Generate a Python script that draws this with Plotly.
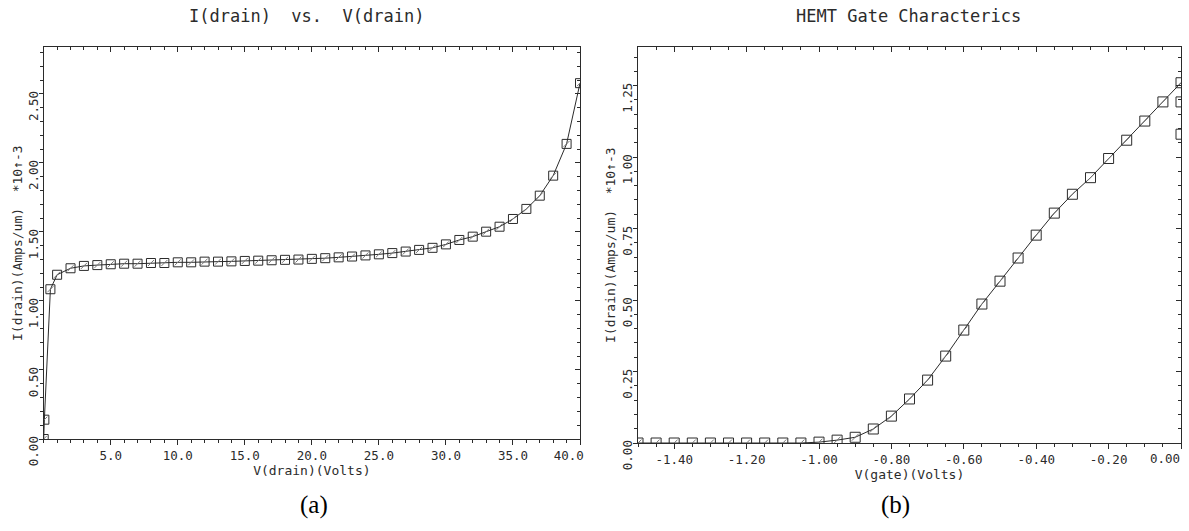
import plotly.graph_objects as go

# ---- I(drain) vs V(drain) ----
v_drain = [0.0, 0.05, 0.5, 1, 2, 3, 4, 5, 6, 7, 8, 9, 10, 11, 12, 13, 14, 15, 16, 17,
           18, 19, 20, 21, 22, 23, 24, 25, 26, 27, 28, 29, 30, 31, 32, 33, 34, 35,
           36, 37, 38, 39, 40]
i_drain = [0.0, 0.14, 1.085, 1.19, 1.237, 1.254, 1.26, 1.266, 1.27, 1.27, 1.275, 1.275,
           1.28, 1.28, 1.285, 1.285, 1.287, 1.29, 1.292, 1.295, 1.298, 1.30, 1.305,
           1.31, 1.316, 1.322, 1.33, 1.338, 1.347, 1.358, 1.37, 1.385, 1.41, 1.442,
           1.466, 1.502, 1.538, 1.594, 1.667, 1.763, 1.908, 2.138, 2.578]

# ---- HEMT gate characteristic ----
v_gate = [-1.50, -1.45, -1.40, -1.35, -1.30, -1.25, -1.20, -1.15, -1.10, -1.05,
          -1.00, -0.95, -0.90, -0.85, -0.80, -0.75, -0.70, -0.65, -0.60, -0.55,
          -0.50, -0.45, -0.40, -0.35, -0.30, -0.25, -0.20, -0.15, -0.10, -0.05, 0.00]
i_gate = [0.0, 0.0, 0.0, 0.0, 0.0, 0.0, 0.0, 0.0, 0.0, 0.0,
          0.003, 0.01, 0.02, 0.049, 0.094, 0.154, 0.22, 0.304, 0.395, 0.486,
          0.566, 0.647, 0.727, 0.804, 0.87, 0.928, 0.995, 1.059, 1.126, 1.193, 1.26]
v_gate_extra = [0.0, 0.0]
i_gate_extra = [1.193, 1.08]

# ---- tick labels ----
PAD = "\u00a0"
drain_xticks = [5, 10, 15, 20, 25, 30, 35, 40]
drain_xtext = ["5.0", "10.0", "15.0", "20.0", "25.0", "30.0", "35.0", "40.0" + PAD * 3]
drain_yticks = [0.0, 0.5, 1.0, 1.5, 2.0, 2.5]
drain_ytext = ["0.00", "0.50", "1.00", "1.50", "2.00", "2.50"]
gate_xticks = [-1.4, -1.2, -1.0, -0.8, -0.6, -0.4, -0.2, 0.0]
gate_xtext = ["-1.40", "-1.20", "-1.00", "-0.80", "-0.60", "-0.40", "-0.20", "0.00"]
gate_yticks = [0.0, 0.25, 0.5, 0.75, 1.0, 1.25]
gate_ytext = ["0.00", "0.25", "0.50", "0.75", "1.00", "1.25"]

INK = "#2b2b2b"
MONO = "DejaVu Sans Mono"
Y_TITLE = "I(drain)(Amps/um)  *10\u2191-3"

fig = go.Figure()


def add_curve(x, y, xa, ya, size):
    fig.add_trace(go.Scatter(
        x=x, y=y, xaxis=xa, yaxis=ya, mode="lines+markers",
        line=dict(color=INK, width=1),
        marker=dict(symbol="square-open", size=size, color=INK, line=dict(width=1, color=INK)),
        hoverinfo="skip", showlegend=False))
    fig.add_trace(go.Scatter(
        x=x, y=y, xaxis=xa, yaxis=ya, mode="markers",
        marker=dict(symbol="line-ne", size=size - 3, color="#777",
                    line=dict(width=1, color="#777")),
        hoverinfo="skip", showlegend=False))


add_curve(v_drain, i_drain, "x", "y", 9)
add_curve(v_gate, i_gate, "x2", "y2", 10)
fig.add_trace(go.Scatter(
    x=v_gate_extra, y=i_gate_extra, xaxis="x2", yaxis="y2", mode="markers",
    marker=dict(symbol="square-open", size=10, color=INK, line=dict(width=1, color=INK)),
    hoverinfo="skip", showlegend=False))

# empty traces so the mirrored frame axes get drawn
for xa, ya in [("x3", "y"), ("x", "y3"), ("x4", "y2"), ("x2", "y4")]:
    fig.add_trace(go.Scatter(x=[], y=[], xaxis=xa, yaxis=ya, showlegend=False, hoverinfo="skip"))

tick_font = dict(family=MONO, size=12.5, color=INK)
title_font = dict(family=MONO, size=13, color=INK)


def x_axis(domain, rng, tickvals, ticktext, minor_dtick, anchor, title):
    return dict(domain=domain, range=rng, anchor=anchor, tickvals=tickvals, ticktext=ticktext,
                ticks="outside", ticklen=5, tickcolor=INK, showline=True, linecolor=INK,
                linewidth=1, showgrid=False, zeroline=False, tickfont=tick_font,
                automargin=False, ticklabeloverflow="allow",
                minor=dict(ticks="outside", dtick=minor_dtick, tick0=rng[0], ticklen=3,
                           tickcolor=INK, showgrid=False),
                title=dict(text=title, font=title_font, standoff=3))


def y_axis(domain, rng, tickvals, ticktext, minor_dtick, anchor):
    return dict(domain=domain, range=rng, anchor=anchor, tickvals=tickvals, ticktext=ticktext,
                ticks="outside", ticklen=4, tickcolor=INK, showline=True, linecolor=INK,
                linewidth=1, showgrid=False, zeroline=False, tickfont=tick_font,
                tickangle=-90, ticklabelshift=14, ticklabelstandoff=-4,
                automargin=False, ticklabeloverflow="allow",
                minor=dict(ticks="outside", dtick=minor_dtick, tick0=rng[0], ticklen=3,
                           tickcolor=INK, showgrid=False))


def frame_axis(over, side, anchor, rng, tickvals, minor_dtick):
    return dict(overlaying=over, side=side, anchor=anchor, range=rng, tickvals=tickvals,
                ticks="inside", ticklen=5, tickcolor=INK, showticklabels=False,
                showline=True, linecolor=INK, linewidth=1, showgrid=False, zeroline=False,
                automargin=False,
                minor=dict(ticks="inside", dtick=minor_dtick, tick0=rng[0], ticklen=3,
                           tickcolor=INK, showgrid=False))


W, H = 1189, 531
dx_left = [43.7 / W, 580 / W]
dy_left = [1 - 439 / H, 1 - 47 / H]
dx_right = [638 / W, 1181 / W]
dy_right = [1 - 443 / H, 1 - 47 / H]

rx1, ry1 = [0, 40], [0, 2.84]
rx2, ry2 = [-1.5, 0], [0, 1.385]

# the right-most gate tick label: drawn separately so it stays inside the frame
last_gate_tick = gate_xtext[-1]
gate_xtext_axis = gate_xtext[:-1] + [""]


def label(text, x, y, font, angle=0):
    return dict(text=text, x=x / W, y=1 - y / H, xref="paper", yref="paper",
                xanchor="center", yanchor="middle", showarrow=False, font=font,
                textangle=angle)


fig.update_layout(
    width=W, height=H, autosize=False, margin=dict(l=0, r=0, t=0, b=0, pad=0, autoexpand=False),
    paper_bgcolor="white", plot_bgcolor="white",
    xaxis=x_axis(dx_left, rx1, drain_xticks, drain_xtext, 1, "y", "V(drain)(Volts)"),
    yaxis=y_axis(dy_left, ry1, drain_yticks, drain_ytext, 0.1, "x"),
    xaxis2=x_axis(dx_right, rx2, gate_xticks, gate_xtext_axis, 0.05, "y2", "V(gate)(Volts)"),
    yaxis2=y_axis(dy_right, ry2, gate_yticks, gate_ytext, 0.05, "x2"),
    xaxis3=frame_axis("x", "top", "y", rx1, drain_xticks, 1),
    yaxis3=frame_axis("y", "right", "x", ry1, drain_yticks, 0.1),
    xaxis4=frame_axis("x2", "top", "y2", rx2, gate_xticks, 0.05),
    yaxis4=frame_axis("y2", "right", "x2", ry2, gate_yticks, 0.05),
    annotations=[
        label("I(drain)  vs.  V(drain)", 306, 16, dict(family=MONO, size=17, color=INK)),
        label("HEMT Gate Characterics", 908, 16, dict(family=MONO, size=17, color=INK)),
        label(Y_TITLE, 17, 243, title_font, -90),
        label(Y_TITLE, 611, 245, title_font, -90),
        dict(text=last_gate_tick, x=gate_xticks[-1], xref="x2", y=1 - 458 / H, yref="paper",
             xanchor="right", yanchor="middle", showarrow=False, font=tick_font, xshift=1),
        label("(a)", 314, 505, dict(family="Liberation Serif", size=25, color="black")),
        label("(b)", 895, 505, dict(family="Liberation Serif", size=25, color="black")),
    ],
)

fig.write_html("out.html", config={"responsive": False})
